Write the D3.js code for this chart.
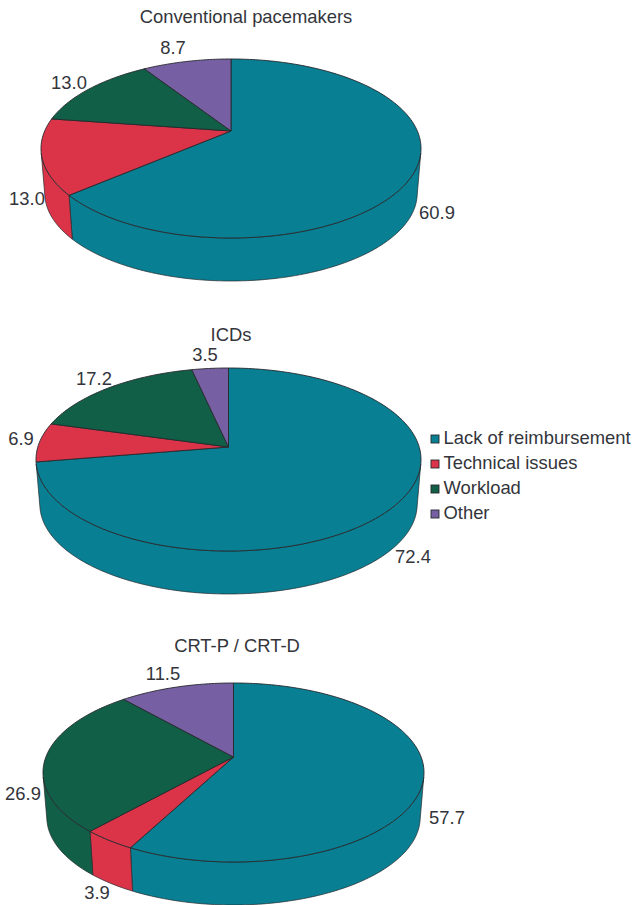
<!DOCTYPE html>
<html>
<head>
<meta charset="utf-8">
<script src="https://cdn.jsdelivr.net/npm/d3@7"></script>
<style>
html,body{margin:0;padding:0;background:#fff}
text{font-family:"Liberation Sans",Arial,sans-serif;font-size:18.4px;fill:#33353b}
</style>
</head>
<body>
<svg id="chart" width="633" height="905"></svg>
<script>
// Reasons per device class, percent of respondents
const categories = ["Lack of reimbursement", "Technical issues", "Workload", "Other"];
const colors = ["#087f92", "#db3449", "#105f46", "#7660a3"];
const titles = ["Conventional pacemakers", "ICDs", "CRT-P / CRT-D"];
const pacemakerValues = [60.9, 13.0, 13.0, 8.7];
const icdValues = [72.4, 6.9, 17.2, 3.5];
const crtValues = [57.7, 3.9, 26.9, 11.5];

// Geometry of each tilted disc: apex is where the slices meet,
// top/bottom/left/right bound the upper face, rim is the lowest point of the side.
const discs = [
  {values: pacemakerValues, apexY: 131, top: 59, bottom: 238, left: 41, right: 421, rim: 281, titleX: 246, titleY: 23,
   labels: [[437, 219], [27, 205], [69, 89], [173, 54]]},
  {values: icdValues, apexY: 447, top: 368, bottom: 551, left: 36, right: 421, rim: 594, titleX: 231, titleY: 341,
   labels: [[413, 563], [21, 445], [94, 385], [205, 361]]},
  {values: crtValues, apexY: 757, top: 683, bottom: 862, left: 43, right: 424, rim: 905, titleX: 237, titleY: 652,
   labels: [[447, 824], [97, 899], [23, 800], [163, 680]]}
];

const svg = d3.select("#chart");
const pie = d3.pie().sort(null);
const outline = d3.line();
const stroke = "#26282c";

// Perspective projection of the unit circle onto the page
function projector(d) {
  const cx = (d.left + d.right) / 2;
  const below = d.bottom - d.apexY, above = d.apexY - d.top;
  const a = (below - above) / (below + above);
  const ry = below * (1 - a);
  const rx = (d.right - d.left) / 2 * Math.sqrt(1 - a * a);
  const shrink = 0.98;
  const drop = d.rim - d.apexY - shrink * below;
  const project = (angle, lower) => {
    const u = Math.sin(angle), v = -Math.cos(angle), w = 1 - a * v;
    const s = lower ? shrink : 1;
    return [cx + s * rx * u / w, d.apexY + (lower ? drop : 0) + s * ry * v / w];
  };
  // Angle past which the side wall turns away from the viewer
  project.silhouette = Math.acos(-(a + 0.05));
  return project;
}

const arcPoints = (p, a0, a1, lower) => {
  const n = Math.max(2, Math.ceil(Math.abs(a1 - a0) / 0.02));
  return d3.range(n + 1).map(i => p(a0 + (a1 - a0) * i / n, lower));
};

discs.forEach((d, k) => {
  const p = projector(d);
  const slices = pie(d.values);
  const cx = (d.left + d.right) / 2;
  const frontStart = p.silhouette, frontEnd = 2 * Math.PI - p.silhouette;
  const g = svg.append("g");

  // Outer side wall, only the part of each slice that faces the viewer
  slices.forEach((s, i) => {
    const a0 = Math.max(s.startAngle, frontStart), a1 = Math.min(s.endAngle, frontEnd);
    if (a1 <= a0) return;
    const pts = arcPoints(p, a0, a1, false).concat(arcPoints(p, a1, a0, true));
    g.append("path").attr("d", outline(pts) + "Z")
      .attr("fill", colors[i]).attr("stroke", stroke).attr("stroke-width", 0.7);
  });

  // Upper face
  slices.forEach((s, i) => {
    const pts = [[cx, d.apexY]].concat(arcPoints(p, s.startAngle, s.endAngle, false));
    g.append("path").attr("d", outline(pts) + "Z")
      .attr("fill", colors[i]).attr("stroke", stroke).attr("stroke-width", 0.9).attr("stroke-linejoin", "round");
  });

  g.append("text").attr("x", d.titleX).attr("y", d.titleY).attr("text-anchor", "middle").text(titles[k]);
  d.values.forEach((v, i) => {
    g.append("text").attr("x", d.labels[i][0]).attr("y", d.labels[i][1]).attr("text-anchor", "middle").text(v.toFixed(1));
  });
});

// Legend beside the middle disc
const legendY = d3.scaleBand().domain(categories).range([426.5, 526.5]);
const legend = svg.append("g");
categories.forEach((c, i) => {
  const y = legendY(c) + legendY.bandwidth() / 2;
  legend.append("rect").attr("x", 431).attr("y", y - 4).attr("width", 8).attr("height", 8)
    .attr("fill", colors[i]).attr("stroke", stroke).attr("stroke-width", 0.9);
  legend.append("text").attr("x", 443.5).attr("y", y + 5).text(c);
});
</script>
</body>
</html>
